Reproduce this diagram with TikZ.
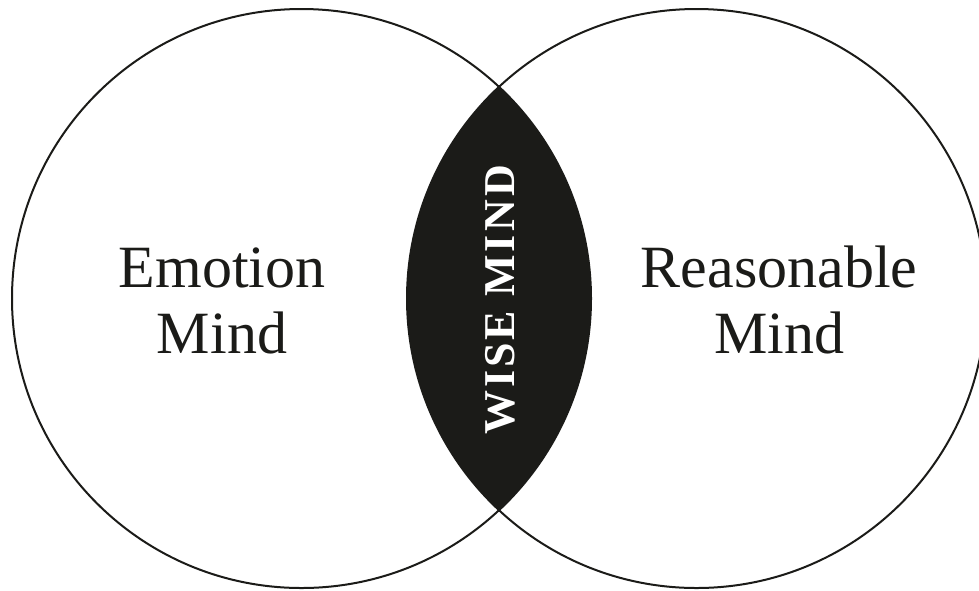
\documentclass[tikz,border=0pt]{standalone}
\usepackage{fontspec}
\setmainfont{Liberation Serif}
\definecolor{ink}{HTML}{1B1B18}
\begin{document}
\begin{tikzpicture}[x=1pt,y=-1pt,
  ring/.style={draw=ink,line width=2pt},
  biglabel/.style={text=ink,inner sep=0pt,anchor=base,font=\fontsize{60}{66}\selectfont},
  wiselabel/.style={text=white,inner sep=0pt,rotate=90,font=\addfontfeatures{LetterSpace=7}\bfseries\fontsize{44}{44}\selectfont}]
\useasboundingbox (0,0) rectangle (979,590);
\clip (0,0) rectangle (979,590);
\coordinate (lc) at (301.5,298.5);
\coordinate (rc) at (696.5,298.5);
\begin{scope}
  \clip (lc) circle[radius=289.5pt];
  \fill[ink] (rc) circle[radius=289.5pt];
\end{scope}
\draw[ring] (lc) circle[radius=289.5pt];
\draw[ring] (rc) circle[radius=289.5pt];
\node[biglabel] (emo1) at (222,287) {Emotion};
\node[biglabel] (emo2) at (222,353) {Mind};
\node[biglabel] (rea1) at (779,287) {Reasonable};
\node[biglabel] (rea2) at (779,353) {Mind};
\node[wiselabel] (wise) at (500,300) {WISE MIND};
\end{tikzpicture}
\end{document}
